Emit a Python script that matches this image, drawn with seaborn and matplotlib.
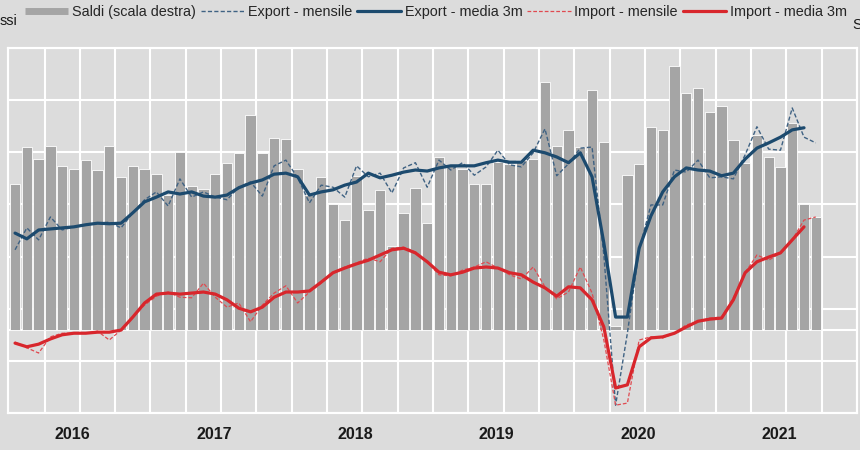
import numpy as np
import pandas as pd
import matplotlib
matplotlib.use("Agg")
import matplotlib.pyplot as plt
from matplotlib.lines import Line2D
import seaborn as sns

# monthly data, Jan 2016 -> Sep 2021
mesi = pd.period_range("2016-01", periods=69, freq="M")
anni = ["2016", "2017", "2018", "2019", "2020", "2021"]

# saldi (right axis)
saldi = [2800, 3510, 3280, 3530, 3150, 3090, 3260, 3070, 3530, 2930, 3150, 3090,
         2990, 2590, 3410, 2760, 2700, 2990, 3200, 3390, 4120, 3390, 3680, 3660,
         3090, 2590, 2930, 2420, 2110, 2950, 2300, 2690, 1610, 2240, 2720, 2050,
         3320, 3150, 3090, 2800, 2800, 3220, 3180, 3260, 3280, 4760, 3530, 3840,
         3510, 4600, 3610, 80, 2970, 3180, 3890, 3840, 5060, 4550, 4640, 4180,
         4300, 3640, 3200, 3740, 3320, 3130, 3970, 2420, 2170]

export_mensile = [9130, 9550, 9320, 9760, 9510, 9570, 9610, 9640, 9660, 9550, 9840, 10090,
                  10240, 9970, 10490, 10140, 10240, 10140, 10090, 10330, 10430, 10160, 10740, 10850,
                  10510, 10030, 10370, 10330, 10140, 10740, 10530, 10600, 10220, 10700, 10800, 10330,
                  10850, 10660, 10800, 10560, 10720, 11040, 10760, 10720, 10990, 11450, 10550, 10780,
                  11080, 11100, 9030, 6150, 7530, 9130, 9990, 9990, 10660, 10620, 10850, 10510,
                  10530, 10490, 10950, 11490, 11060, 11040, 11850, 11290, 11180]

export_3m = [9450, 9340, 9510, 9530, 9550, 9570, 9610, 9640, 9630, 9640, 9840, 10050,
             10140, 10240, 10200, 10240, 10160, 10140, 10180, 10320, 10410, 10470, 10580, 10600,
             10530, 10180, 10240, 10280, 10370, 10430, 10600, 10510, 10560, 10620, 10660, 10640,
             10700, 10740, 10740, 10740, 10800, 10850, 10810, 10810, 11040, 10990, 10910, 10800,
             10990, 10530, 9260, 7840, 7840, 9160, 9780, 10240, 10530, 10700, 10660, 10640,
             10550, 10600, 10870, 11080, 11180, 11290, 11430, 11470]

import_mensile = [7360, 7250, 7150, 7460, 7530, 7530, 7530, 7570, 7400, 7590, 7840, 8070,
                  8240, 8320, 8220, 8210, 8490, 8220, 8030, 8110, 7750, 8070, 8300, 8440,
                  8110, 8320, 8490, 8690, 8800, 8880, 8970, 8900, 9160, 9180, 9090, 8900,
                  8650, 8630, 8740, 8800, 8900, 8780, 8650, 8570, 8800, 8420, 8190, 8320,
                  8800, 8300, 7400, 6150, 6190, 7400, 7460, 7440, 7530, 7690, 7750, 7820,
                  7840, 8210, 8690, 9030, 8930, 9070, 9320, 9700, 9760]

import_3m = [7340, 7270, 7320, 7420, 7500, 7530, 7530, 7550, 7550, 7590, 7840, 8110,
             8280, 8300, 8280, 8300, 8320, 8280, 8170, 8010, 7940, 8030, 8220, 8320,
             8320, 8340, 8510, 8690, 8780, 8860, 8930, 9030, 9130, 9160, 9070, 8900,
             8700, 8650, 8700, 8780, 8800, 8780, 8690, 8650, 8510, 8400, 8240, 8420,
             8400, 8170, 7650, 6480, 6540, 7270, 7440, 7460, 7530, 7650, 7760, 7800,
             7820, 8170, 8690, 8900, 8990, 9070, 9320, 9570]

sns.set_style("darkgrid", {"axes.facecolor": "#dcdcdc", "figure.facecolor": "#dcdcdc",
                           "grid.color": "white"})
plt.rcParams["font.family"] = ["Liberation Sans", "DejaVu Sans"]

fig = plt.figure(figsize=(8.6, 4.5), dpi=100)
ax = fig.add_axes([8 / 860, 1 - 413 / 450, 849 / 860, 365 / 450])

BAR = "#a5a5a5"
EXP = "#1c4a6e"
EXP_M = "#3f6283"
IMP = "#d8262c"
IMP_M = "#e04a50"

# bars on the host axis (right scale)
sns.barplot(x=np.arange(len(saldi)), y=saldi, color=BAR, width=0.88,
            edgecolor="white", linewidth=0.6, saturation=1, ax=ax, zorder=2)
ax.axhline(0, color="white", lw=1.5, zorder=1)
ax.set_ylim(-1592, 5409)
ax.set_yticks(np.linspace(-1592, 5409, 8))
ax.set_xlim(-0.6, 71.5)

# lines on the twin axis (left scale)
ax2 = ax.twinx()
ax2.grid(False)
sns.lineplot(x=np.arange(len(export_mensile)), y=export_mensile, color=EXP_M, lw=1.0,
             linestyle=(0, (3, 1.6)), ax=ax2)
sns.lineplot(x=np.arange(len(export_3m)), y=export_3m, color=EXP, lw=2.3, ax=ax2)
sns.lineplot(x=np.arange(len(import_mensile)), y=import_mensile, color=IMP_M, lw=0.9,
             linestyle=(0, (3, 1.6)), ax=ax2)
sns.lineplot(x=np.arange(len(import_3m)), y=import_3m, color=IMP, lw=2.3, ax=ax2)
ax2.set_ylim(6000, 13000)
ax2.set_xlim(-0.6, 71.5)

# grid: quarters vertical, 8 horizontal
ax.set_xticks(np.arange(2.5, 72, 3), minor=True)
ax.set_xticks(np.arange(4.9, 72, 12))
ax.set_xticklabels(anni, fontsize=11.5, fontweight="bold", color="#1a1a1a")
ax.grid(which="minor", axis="x", color="white", lw=1.5)
ax.grid(which="major", axis="x", visible=False)
ax.grid(which="major", axis="y", color="white", lw=1.5)
ax.set_axisbelow(True)
ax.tick_params(axis="x", which="both", length=0, pad=10)
ax.tick_params(axis="y", length=0, labelleft=False, labelright=False)
ax2.tick_params(axis="both", length=0, labelleft=False, labelright=False)
ax.set_xlabel("")
ax.set_ylabel("")
ax2.set_ylabel("")
for a in (ax, ax2):
    for s in a.spines.values():
        s.set_visible(True)
        s.set_color("white")
        s.set_linewidth(1.5)

handles = [Line2D([], [], color=BAR, lw=5, solid_capstyle="butt"),
           Line2D([], [], color=EXP_M, lw=1.0, linestyle=(0, (3, 1.6))),
           Line2D([], [], color=EXP, lw=2.3),
           Line2D([], [], color=IMP_M, lw=0.9, linestyle=(0, (3, 1.6))),
           Line2D([], [], color=IMP, lw=2.3)]
labels = ["Saldi (scala destra)", "Export - mensile", "Export - media 3m",
          "Import - mensile", "Import - media 3m"]
fig.legend(handles, labels, loc="center", bbox_to_anchor=(436 / 860, 1 - 12 / 450),
           ncol=5, frameon=False, fontsize=10.4, handlelength=3.0, handletextpad=0.27,
           columnspacing=0.34, borderaxespad=0, borderpad=0)

fig.text(0, 1 - 21 / 450, "ssi", fontsize=10.4, va="center", ha="left", color="#1a1a1a")
fig.text(852 / 860, 1 - 25 / 450, "S", fontsize=10.4, va="center", ha="left", color="#1a1a1a")

fig.savefig("out.png", dpi=100, facecolor=fig.get_facecolor())
